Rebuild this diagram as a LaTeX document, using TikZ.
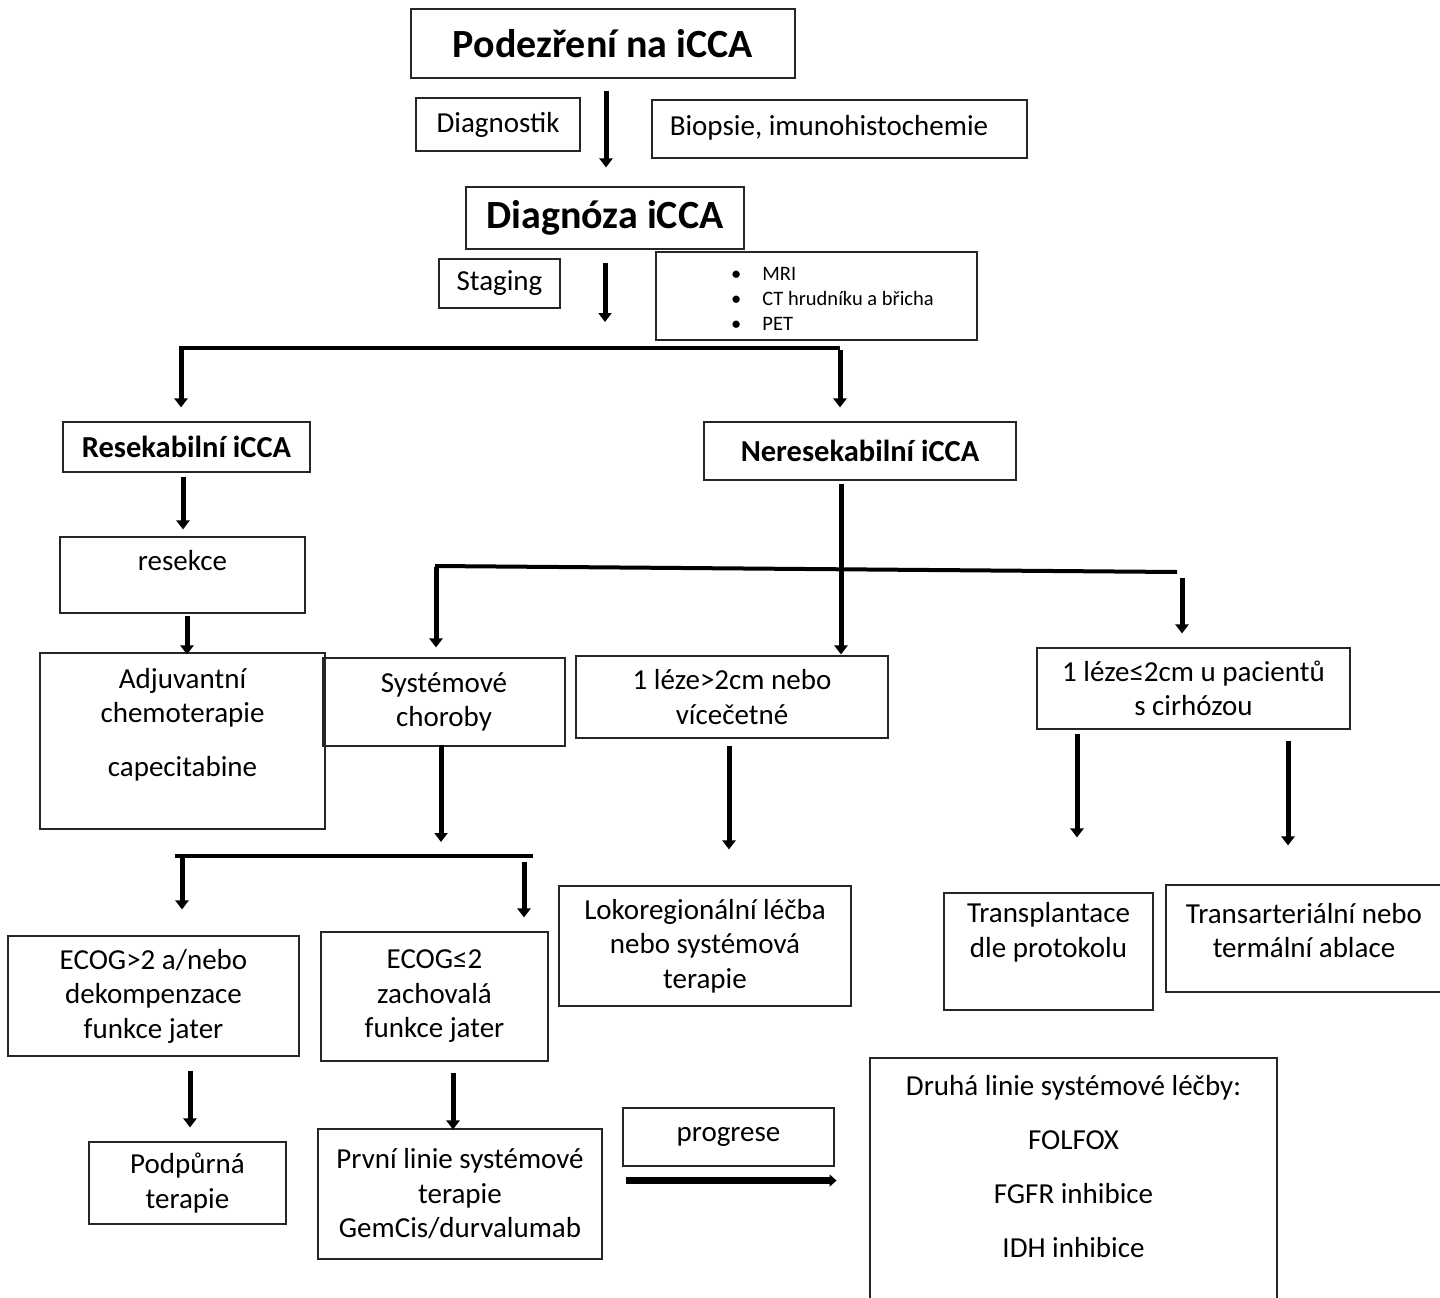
\documentclass[tikz,border=0pt]{standalone}
\usepackage{fontspec}
\setmainfont{Carlito}
\usetikzlibrary{arrows.meta}
\begin{document}
\begin{tikzpicture}[x=1pt,y=-1pt,
  box/.style={draw=black!85, line width=1.1pt, inner sep=0pt, align=center,
              font=\fontsize{29}{34.5}\selectfont},
  big/.style={font=\fontsize{40}{44}\selectfont\bfseries},
  mid/.style={font=\fontsize{30.5}{36}\selectfont\bfseries},
  txt/.style={inner sep=0pt, align=center, font=\fontsize{29}{34.5}\selectfont},
  arr/.style={line width=5pt, -{Triangle[length=9pt,width=13pt]}},
  harr/.style={line width=7pt, -{Triangle[length=7pt,width=12pt]}},
  bus/.style={line width=4pt},
]
\fill[white] (0,0) rectangle (1440,1298);
\useasboundingbox (0,0) rectangle (1440,1298);

% ---- top part
\node[box,big,minimum width=384pt,minimum height=69pt] (pod) at (603,43.5) {Podezření na iCCA};
\node[box,minimum width=164pt,minimum height=53pt] (diagn) at (498,124.5) {Diagnostik};
\node[box,minimum width=375pt,minimum height=58pt] (biop) at (839.5,129) {};
\node[txt] (biopt) at (829,128) {Biopsie, imunohistochemie};
\node[box,big,minimum width=278pt,minimum height=62pt] (diag) at (605,218) {Diagnóza iCCA};
\node[box,minimum width=121pt,minimum height=49pt] (stag) at (499.5,283.5) {Staging};
\node[box,minimum width=321pt,minimum height=88pt] (mri) at (816.5,296) {};
\node[anchor=west, inner sep=0pt, font=\fontsize{20.5}{25}\selectfont] (mrit) at (731,300)
  {\begin{tabular}{@{}l@{\hspace{21pt}}l@{}}\textbullet & MRI\\ \textbullet & CT hrudníku a břicha\\ \textbullet & PET\end{tabular}};

\draw[arr] ([xshift=3pt,yshift=-12pt]pod.south) -- ([xshift=1pt,yshift=19pt]diag.north);
\coordinate (a2e) at (605,322);
\draw[arr] ([yshift=-13pt]diag.south) -- (a2e);

% ---- first split
\coordinate (b1l) at (179,348);
\coordinate (b1r) at (840,348);
\draw[bus] (b1l) -- (b1r);
\node[box,mid,minimum width=247pt,minimum height=50pt] (resek) at (186.5,447) {Resekabilní iCCA};
\node[box,mid,minimum width=312pt,minimum height=58pt] (neres) at (860,451) {Neresekabilní iCCA};
\coordinate (b1a) at (181,350);
\coordinate (b1b) at (840,350);
\draw[arr] (b1a) -- ([xshift=-5.5pt,yshift=14pt]resek.north);
\draw[arr] (b1b) -- ([xshift=-20pt,yshift=14pt]neres.north);

% ---- resectable branch
\node[box,minimum width=245pt,minimum height=76pt] (resc) at (182.5,575) {};
\node[txt] (resct) at (182.5,561) {resekce};
\node[box,minimum width=285pt,minimum height=176pt] (adj) at (182.5,741) {};
\node[txt] (adjt) at (182.5,725) {Adjuvantní\\chemoterapie\\[19.5pt]capecitabine};
\draw[arr] ([xshift=-3.5pt,yshift=-4pt]resek.south) -- ([xshift=0.5pt,yshift=7pt]resc.north);
\draw[arr] ([xshift=4.5pt,yshift=-2pt]resc.south) -- ([xshift=4.5pt,yshift=-2pt]adj.north);

% ---- unresectable branch
\node[box,minimum width=242pt,minimum height=88pt] (sys) at (444,702) {Systémové\\choroby};
\node[box,minimum width=312pt,minimum height=82pt] (lez1) at (732,697) {1 léze>2cm nebo\\vícečetné};
\node[box,minimum width=313pt,minimum height=81pt] (lez2) at (1193.5,688.5) {1 léze≤2cm u pacientů\\s cirhózou};
\coordinate (b2l) at (435,566);
\coordinate (b2r) at (1177,572);
\draw[bus] (b2l) -- (b2r);
\draw[arr] ([xshift=-19pt,yshift=-3pt]neres.south) -- ([xshift=109pt,yshift=1pt]lez1.north);
\coordinate (b2a) at (436,567);
\coordinate (b2b) at (1182,578);
\draw[arr] (b2a) -- ([xshift=-8pt,yshift=10pt]sys.north);
\draw[arr] (b2b) -- ([xshift=-11.5pt,yshift=14pt]lez2.north);

\node[box,minimum width=292pt,minimum height=120pt] (lok) at (705,946) {Lokoregionální léčba\\nebo systémová\\terapie};
\node[box,minimum width=209pt,minimum height=117pt] (trans) at (1048.5,951.5) {};
\node[txt] (transt) at (1048.5,932.5) {Transplantace\\dle protokolu};
\node[box,minimum width=276pt,minimum height=107pt] (tarr) at (1304,938.5) {};
\node[txt] (tarrt) at (1304,930.5) {Transarteriální nebo\\termální ablace};

\coordinate (a9e) at (441,842);
\draw[arr] ([xshift=-3pt,yshift=2pt]sys.south) -- (a9e);
\draw[arr] ([xshift=-3pt,yshift=-7pt]lez1.south) -- ([xshift=24pt,yshift=36pt]lok.north);
\draw[arr] ([xshift=-116.5pt,yshift=-4pt]lez2.south) -- ([xshift=28.5pt,yshift=55pt]trans.north);
\draw[arr] ([xshift=94.5pt,yshift=-11pt]lez2.south) -- ([xshift=-16pt,yshift=39pt]tarr.north);

% ---- systemic split
\coordinate (b3l) at (175,856);
\coordinate (b3r) at (533,856);
\draw[bus] (b3l) -- (b3r);
\node[box,minimum width=291pt,minimum height=120pt] (ecog1) at (153.5,996) {ECOG>2 a/nebo\\dekompenzace\\funkce jater};
\node[box,minimum width=227pt,minimum height=129pt] (ecog2) at (434.5,996.5) {ECOG≤2\\zachovalá\\funkce jater};
\coordinate (b3a) at (182,854);
\coordinate (b3b) at (524,862);
\draw[arr] (b3a) -- ([xshift=28.5pt,yshift=26pt]ecog1.north);
\draw[arr] (b3b) -- ([xshift=89.5pt,yshift=14pt]ecog2.north);

\node[box,minimum width=197pt,minimum height=82pt] (podp) at (187.5,1183) {Podpůrná\\terapie};
\node[box,minimum width=284pt,minimum height=130pt] (prv) at (460,1194) {První linie systémové\\terapie\\GemCis/durvalumab};
\draw[arr] ([xshift=36.5pt,yshift=-14pt]ecog1.south) -- ([xshift=2.5pt,yshift=14pt]podp.north);
\draw[arr] ([xshift=18.5pt,yshift=-11pt]ecog2.south) -- ([xshift=-7pt,yshift=-1pt]prv.north);

% ---- progression
\node[box,minimum width=211pt,minimum height=58pt] (prog) at (728.5,1137) {progrese};
\draw[harr] ([xshift=4pt,yshift=-14pt]prog.south west) -- ([xshift=2pt,yshift=-14pt]prog.south east);
\node[box,minimum width=407pt,minimum height=262pt] (druha) at (1073.5,1189) {};
\node[txt] (druhat) at (1073.5,1167) {Druhá linie systémové léčby:\\[19.5pt]FOLFOX\\[19.5pt]FGFR inhibice\\[19.5pt]IDH inhibice};
\end{tikzpicture}
\end{document}
